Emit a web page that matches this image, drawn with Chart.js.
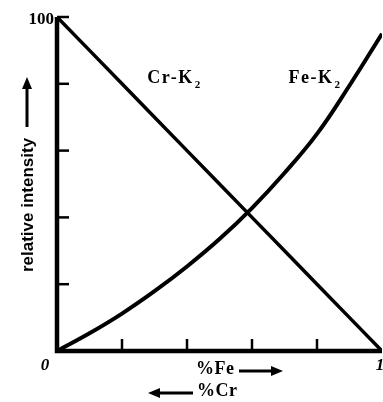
<!DOCTYPE html>
<html><head><meta charset="utf-8">
<script src="https://cdn.jsdelivr.net/npm/chart.js@4"></script>
<style>html,body{margin:0;padding:0;background:#fff}#wrap{width:383px;height:402px;position:relative}</style>
</head><body><div id="wrap"><canvas id="c" width="383" height="402"></canvas></div>
<script>
const fraction = [0, 0.1, 0.2, 0.3, 0.4, 0.5, 0.6, 0.7, 0.8, 0.9, 1.0];
const crK = [100, 90, 80, 70, 60, 50, 40, 30, 20, 10, 0];
const feK = [0, 5.3, 11.2, 17.9, 25.3, 33.5, 42.8, 53.3, 65, 79.5, 95];
const xTicks = [0.2, 0.4, 0.6, 0.8];
const yTicks = [20, 40, 60, 80, 100];
const xTickLabels = [{v: 0, t: "0"}, {v: 1, t: "1"}];
const yTickLabels = [{v: 100, t: "100"}];
const seriesNames = ["Cr-K", "Fe-K"];
const seriesSub = "2";
const xTitleFe = "%Fe";
const xTitleCr = "%Cr";
const yTitle = "relative intensity";

const toPts = (ys) => fraction.map((x, i) => ({x, y: ys[i]}));

const SERIF = '"Liberation Serif", "DejaVu Serif", serif';

const deco = {
  id: 'deco',
  afterDatasetsDraw(chart) {
    const {ctx, chartArea: a, scales: {x, y}} = chart;
    ctx.save();
    ctx.strokeStyle = '#000'; ctx.fillStyle = '#000';
    ctx.lineWidth = 4.5; ctx.lineCap = 'butt';
    // axes
    ctx.beginPath();
    ctx.moveTo(a.left, y.getPixelForValue(100));
    ctx.lineTo(a.left, y.getPixelForValue(0));
    ctx.lineTo(a.right, y.getPixelForValue(0));
    ctx.stroke();
    // ticks
    ctx.lineWidth = 2.5;
    xTicks.forEach(v => {
      const px = x.getPixelForValue(v);
      ctx.beginPath(); ctx.moveTo(px, a.bottom); ctx.lineTo(px, a.bottom - 12); ctx.stroke();
    });
    yTicks.forEach(v => {
      const py = y.getPixelForValue(v);
      ctx.beginPath(); ctx.moveTo(a.left, py); ctx.lineTo(a.left + 12, py); ctx.stroke();
    });
    // tick labels
    ctx.font = 'bold 17px ' + SERIF;
    ctx.textBaseline = 'middle';
    ctx.textAlign = 'right';
    yTickLabels.forEach(o => ctx.fillText(o.t, a.left - 3, y.getPixelForValue(o.v) + 3));
    ctx.textAlign = 'center';
    ctx.font = 'italic bold 17px ' + SERIF;
    xTickLabels.forEach(o => ctx.fillText(o.t, x.getPixelForValue(o.v) + (o.v === 0 ? -12 : -2), a.bottom + 15));
    // series labels
    ctx.textAlign = 'left';
    seriesLabel(ctx, seriesNames[0], x.getPixelForValue(0.278), y.getPixelForValue(81.5));
    seriesLabel(ctx, seriesNames[1], x.getPixelForValue(0.712), y.getPixelForValue(81.5));
    // x titles with arrows
    ctx.font = 'bold 18px ' + SERIF;
    ctx.letterSpacing = '0.5px';
    ctx.textAlign = 'left';
    ctx.fillText(xTitleFe, 196, 369);
    arrow(ctx, 239, 283, 371);
    ctx.fillText(xTitleCr, 197, 391);
    arrow(ctx, 193, 148, 393);
    ctx.letterSpacing = '0px';
    // y title
    ctx.save();
    ctx.translate(27, 205);
    ctx.rotate(-Math.PI / 2);
    ctx.font = 'bold 17px "Liberation Sans", "DejaVu Sans", sans-serif';
    ctx.textAlign = 'center';
    ctx.fillText(yTitle, 0, 1);
    ctx.restore();
    ctx.lineWidth = 3;
    ctx.beginPath(); ctx.moveTo(27, 127); ctx.lineTo(27, 86); ctx.stroke();
    ctx.beginPath(); ctx.moveTo(27, 77); ctx.lineTo(22, 89); ctx.lineTo(32, 89); ctx.closePath(); ctx.fill();
    ctx.restore();
  }
};
function seriesLabel(ctx, txt, px, py) {
  ctx.font = 'bold 18px ' + SERIF;
  ctx.letterSpacing = '1.5px';
  ctx.fillText(txt, px, py);
  const w = ctx.measureText(txt).width;
  ctx.font = 'bold 11px ' + SERIF;
  ctx.letterSpacing = '0px';
  ctx.fillText(seriesSub, px + w + 1, py + 6);
}
function arrow(ctx, x0, x1, yy) {
  const d = Math.sign(x1 - x0);
  ctx.lineWidth = 3;
  ctx.beginPath(); ctx.moveTo(x0, yy); ctx.lineTo(x1 - d * 9, yy); ctx.stroke();
  ctx.beginPath(); ctx.moveTo(x1, yy); ctx.lineTo(x1 - d * 12, yy - 5); ctx.lineTo(x1 - d * 12, yy + 5); ctx.closePath(); ctx.fill();
}

new Chart(document.getElementById('c'), {
  type: 'line',
  data: {
    datasets: [
      {label: seriesNames[0], data: toPts(crK), borderColor: '#000', borderWidth: 3.5, pointRadius: 0, tension: 0, fill: false},
      {label: seriesNames[1], data: toPts(feK), borderColor: '#000', borderWidth: 4, pointRadius: 0, tension: 0.4, fill: false}
    ]
  },
  options: {
    responsive: false, animation: false, devicePixelRatio: 1,
    layout: {padding: {left: 57, top: 17, right: 1, bottom: 51}},
    plugins: {legend: {display: false}, tooltip: {enabled: false}},
    scales: {
      x: {type: 'linear', min: 0, max: 1, display: false},
      y: {type: 'linear', min: 0, max: 100, display: false}
    }
  },
  plugins: [deco]
});
</script></body></html>
